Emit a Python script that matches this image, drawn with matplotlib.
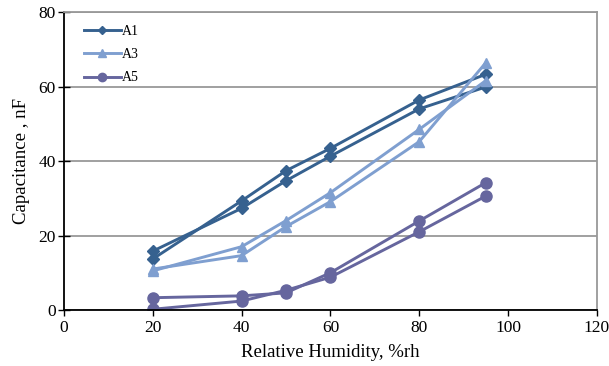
import matplotlib.pyplot as plt

rh = [20, 40, 50, 60, 80, 95]

a1_up = [13.7, 29.3, 37.4, 43.4, 56.4, 63.3]
a1_down = [15.8, 27.3, 34.7, 41.3, 54.0, 59.9]
a3_up = [10.5, 17.0, 24.0, 31.5, 48.5, 61.6]
a3_down = [11.0, 14.6, 22.4, 29.1, 45.2, 66.4]
a5_up = [3.3, 3.8, 4.6, 10.0, 23.9, 34.2]
a5_down = [0.2, 2.4, 5.3, 8.8, 21.0, 30.6]

labels = ["A1", "A3", "A5"]
colors = ["#36618f", "#7f9fd0", "#66669e"]
markers = ["D", "^", "o"]
msizes = [6, 7.5, 8]


def make_chart():
    plt.rcParams["font.family"] = ["Liberation Serif", "DejaVu Serif"]
    fig = plt.figure(figsize=(6.09, 3.66), dpi=100)
    ax = fig.add_axes([0.105, 0.153, 0.875, 0.814])

    series = [(a1_up, a1_down), (a3_up, a3_down), (a5_up, a5_down)]
    for (up, down), lab, col, mk, ms in zip(series, labels, colors, markers, msizes):
        ax.plot(rh, up, color=col, marker=mk, markersize=ms, linewidth=2.1, label=lab)
        ax.plot(rh, down, color=col, marker=mk, markersize=ms, linewidth=2.1)

    ax.set_xlim(0, 120)
    ax.set_ylim(0, 80)
    ax.set_xticks(range(0, 121, 20))
    ax.set_yticks(range(0, 81, 20))
    ax.yaxis.grid(True, color="#999999", linewidth=1.3)
    ax.set_axisbelow(True)
    for s in ["top", "right"]:
        ax.spines[s].set_color("#999999")
        ax.spines[s].set_linewidth(1.3)
    for s in ["left", "bottom"]:
        ax.spines[s].set_linewidth(1.3)
    ax.tick_params(axis="y", direction="inout", length=8, width=1, labelsize=12.5, pad=2)
    ax.tick_params(axis="x", direction="out", length=4, width=1, labelsize=12.5, pad=3)

    ax.set_xlabel("Relative Humidity, %rh", fontsize=13.5, labelpad=6)
    ax.set_ylabel("Capacitance , nF", fontsize=13.5, labelpad=6)

    ax.legend(loc="upper left", bbox_to_anchor=(0.015, 1.0), frameon=False,
              fontsize=10, labelspacing=0.75, handlelength=2.6, handletextpad=0.1,
              markerscale=0.75)

    fig.savefig("out.png", dpi=100)
    plt.close(fig)


if __name__ == "__main__":
    make_chart()
